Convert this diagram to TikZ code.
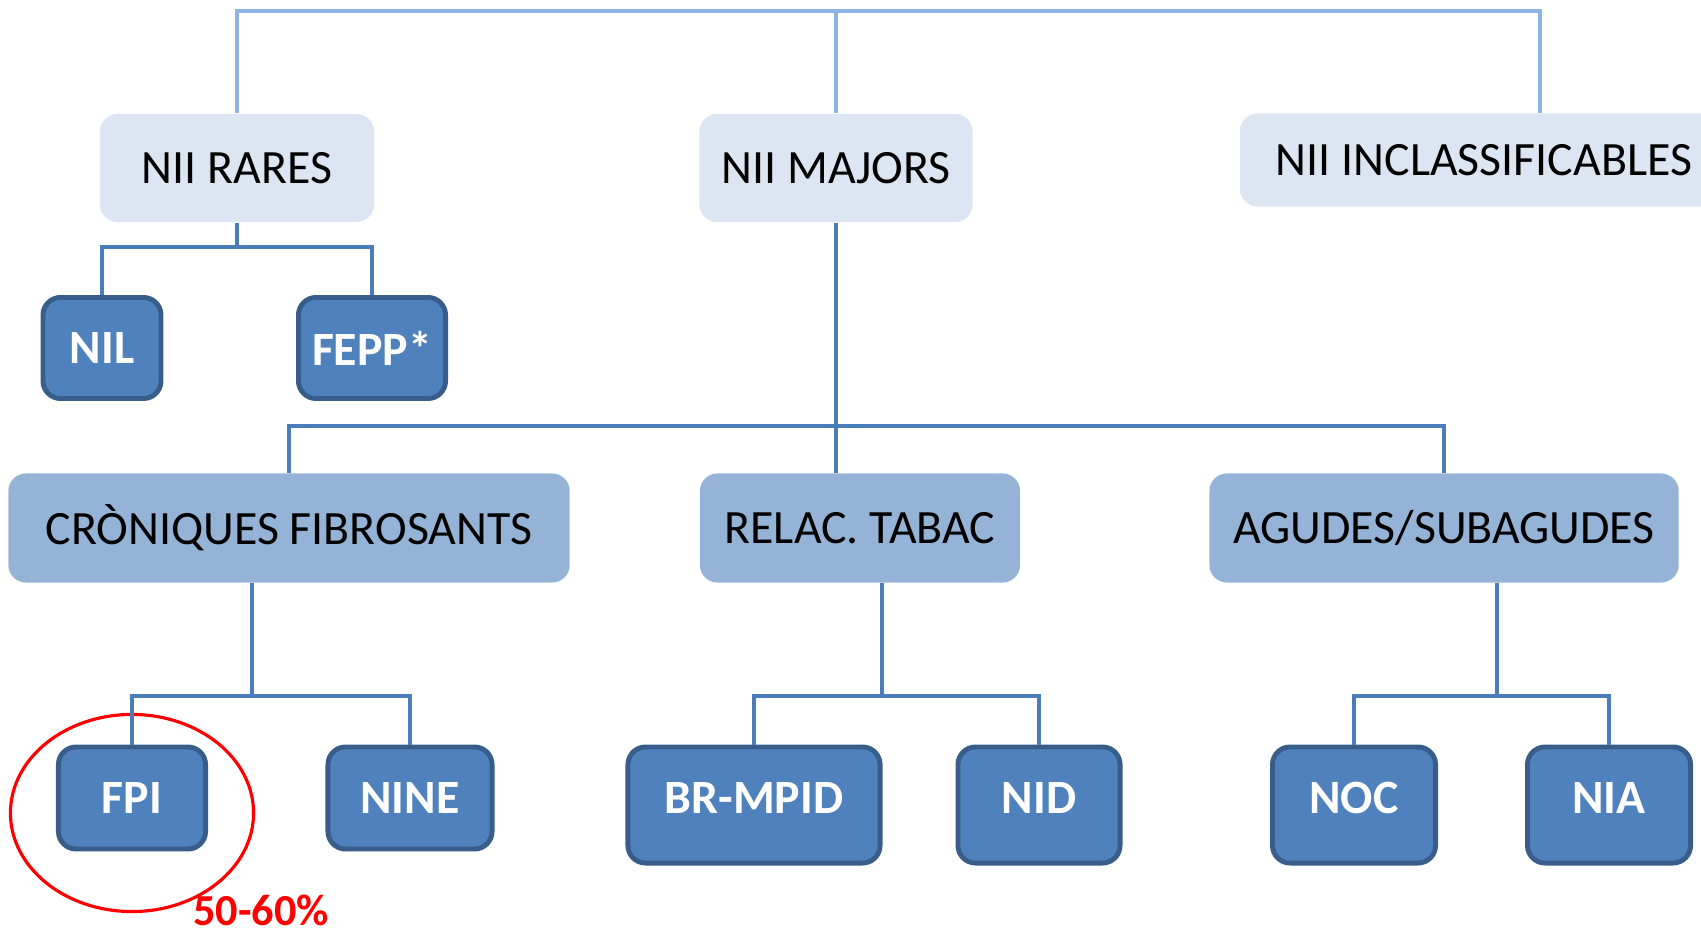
\documentclass[tikz,border=0pt]{standalone}
\usepackage{fontspec}
\setmainfont{Carlito}
\usetikzlibrary{positioning,calc,shapes.geometric}
\definecolor{nlight}{HTML}{DCE6F2}
\definecolor{nmid}{HTML}{95B3D7}
\definecolor{ndark}{HTML}{4F81BD}
\definecolor{nedge}{HTML}{385D8A}
\definecolor{ntop}{HTML}{8EB4E3}
\definecolor{nline}{HTML}{4A7EBB}

\begin{document}
\begin{tikzpicture}[x=0.01cm, y=-0.01cm, font=\fontsize{13.6}{15}\selectfont,
  grp/.style={fill=nlight, rounded corners=5pt, minimum height=1.08cm},
  sub/.style={fill=nmid, rounded corners=5pt, minimum height=1.09cm},
  leaf/.style={draw=nedge, line width=1.4pt, fill=ndark, rounded corners=5pt,
    text=white, font=\fontsize{13.6}{15}\selectfont\bfseries},
  tallleaf/.style={leaf, minimum height=1.16cm, text depth=0.15cm},
  tree/.style={draw=nline, line width=1.3pt},
  toptree/.style={draw=ntop, line width=1.3pt},
  ring/.style={draw=red, line width=0.9pt, ellipse, inner sep=0pt},
  pct/.style={text=red, font=\fontsize{12.6}{14}\selectfont\bfseries, inner sep=0pt}]
\useasboundingbox (0,0) rectangle (1701,934);

% top level
\node[grp, minimum width=2.74cm] (rares) at (237,168) {NII RARES};
\node[grp, minimum width=2.73cm] (majors) at (836,168) {NII MAJORS};
\node[grp, minimum width=4.88cm, minimum height=0.93cm] (incl) at (1484,160) {NII INCLASSIFICABLES};

% rare ones
\node[leaf, minimum width=1.18cm, minimum height=1.01cm] (nil) at (102,348) {NIL};
\node[leaf, minimum width=1.47cm, minimum height=1.01cm] (fepp) at (372,348) {FEPP*};

% major groups
\node[sub, minimum width=5.61cm] (cron) at (289,528) {CRÒNIQUES FIBROSANTS};
\node[sub, minimum width=3.20cm] (tabac) at (860,528) {RELAC. TABAC};
\node[sub, minimum width=4.69cm] (agudes) at (1444,528) {AGUDES/SUBAGUDES};

% leaves
\node[leaf, minimum width=1.47cm, minimum height=1.02cm] (fpi) at (132,798) {FPI};
\node[leaf, minimum width=1.64cm, minimum height=1.02cm] (nine) at (410,798) {NINE};
\node[tallleaf, minimum width=2.52cm] (brmpid) at (754,805) {BR-MPID};
\node[tallleaf, minimum width=1.62cm] (nid) at (1039,805) {NID};
\node[tallleaf, minimum width=1.63cm] (noc) at (1354,805) {NOC};
\node[tallleaf, minimum width=1.63cm] (nia) at (1609,805) {NIA};

\node[ring, minimum width=2.43cm, minimum height=1.97cm] (mark) at (132,813) {};
\node[pct, anchor=base] (share) at (261,925) {50-60\%};

% connectors
\coordinate (topbus) at (836,11);
\draw[toptree] (rares.north) |- (topbus) -| ([xshift=0.56cm]incl.north);
\draw[toptree] (majors.north) -- (topbus);

\coordinate (rbus) at (237,247);
\draw[tree] (rares.south) -- (rbus);
\draw[tree] (nil.north) |- (rbus) -| (fepp.north);

\coordinate (mbus) at (836,426);
\draw[tree] (majors.south) -- (majors.south |- tabac.north);
\draw[tree] (cron.north) |- (mbus) -| (agudes.north);

\coordinate (cbus) at (252,696);
\draw[tree] (cron.south -| cbus) -- (cbus);
\draw[tree] (fpi.north) |- (cbus) -| (nine.north);

\coordinate (tbus) at (882,696);
\draw[tree] (tabac.south -| tbus) -- (tbus);
\draw[tree] (brmpid.north) |- (tbus) -| (nid.north);

\coordinate (abus) at (1497,696);
\draw[tree] (agudes.south -| abus) -- (abus);
\draw[tree] (noc.north) |- (abus) -| (nia.north);
\end{tikzpicture}
\end{document}
